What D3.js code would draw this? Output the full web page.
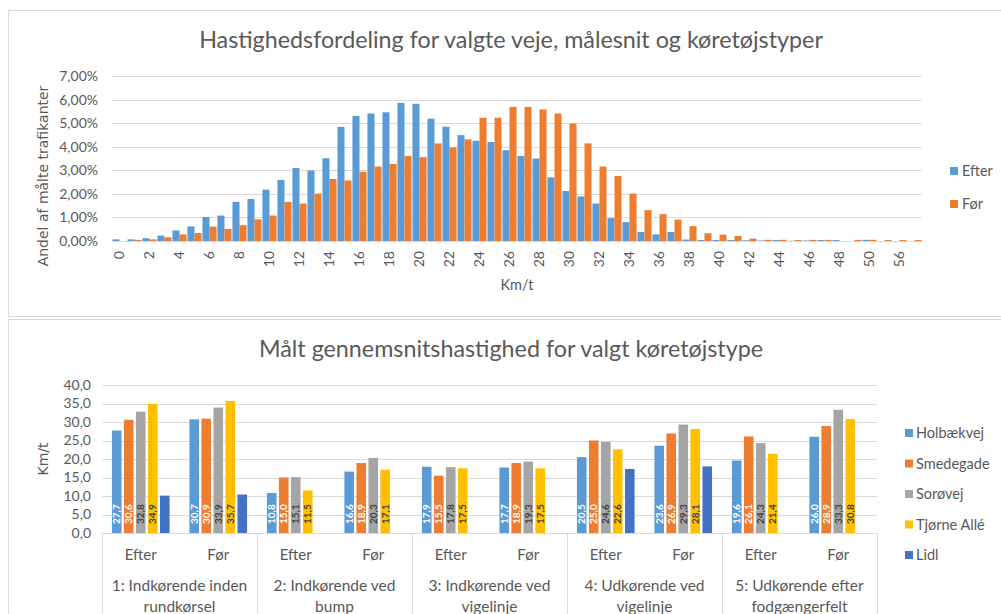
<!DOCTYPE html>
<html><head><meta charset="utf-8">
<script src="https://cdn.jsdelivr.net/npm/d3@7"></script>
<style>
body{margin:0;background:#fff}
text{font-family:Lato, "Open Sans", sans-serif; fill:#595959}
</style>
</head><body><svg id="c" width="1001" height="614"></svg>
<script>
// ---------- Chart 1 data ----------
const speedCats = ["0","1","2","3","4","5","6","7","8","9","10","11","12","13","14","15","16","17","18","19","20","21","22","23","24","25","26","27","28","29","30","31","32","33","34","35","36","37","38","39","40","41","42","43","44","45","46","47","48","49","50","52","56","60"];
const efterShare = [0.07,0.07,0.12,0.23,0.45,0.62,1.02,1.08,1.66,1.78,2.18,2.59,3.10,2.99,3.51,4.84,5.31,5.41,5.46,5.86,5.82,5.19,4.85,4.49,4.25,4.20,3.85,3.61,3.50,2.70,2.12,1.89,1.59,0.97,0.80,0.38,0.28,0.38,0.06,0.04,0.04,0.04,0.03,0.02,0.04,0.01,0.02,0.04,0.04,0,0.05,0,0,0];
const forShare = [0,0.05,0.07,0.16,0.28,0.34,0.61,0.51,0.67,0.92,1.08,1.66,1.59,2.01,2.63,2.57,2.94,3.16,3.27,3.61,3.56,4.14,3.97,4.31,5.23,5.23,5.69,5.69,5.58,5.41,4.99,4.14,3.16,2.76,2.01,1.31,1.14,0.91,0.63,0.33,0.27,0.21,0.10,0.05,0.05,0.04,0.05,0.05,0,0.05,0.05,0.04,0.04,0.04];
const topSeries = ["Efter","Før"];
const topTicks = [0,1,2,3,4,5,6,7];

// ---------- Chart 2 data ----------
const groups = [["1: Indkørende inden","rundkørsel"],["2: Indkørende ved","bump"],["3: Indkørende ved","vigelinje"],["4: Udkørende ved","vigelinje"],["5: Udkørende efter","fodgængerfelt"]];
const periods = ["Efter","Før"];
const roads = ["Holbækvej","Smedegade","Sorøvej","Tjørne Allé","Lidl"];
const holbaekvej = [27.7,30.7,10.8,16.6,17.9,17.7,20.5,23.6,19.6,26.0];
const smedegade  = [30.6,30.9,15.0,18.9,15.5,18.9,25.0,26.9,26.1,28.9];
const sorovej    = [32.8,33.9,15.1,20.3,17.8,19.3,24.6,29.3,24.3,33.3];
const tjorneAlle = [34.9,35.7,11.5,17.1,17.5,17.5,22.6,28.1,21.4,30.8];
const lidl       = [10.1,10.4,null,null,null,null,17.3,18.0,null,null];
const bottomTicks = [0,5,10,15,20,25,30,35,40];

const roadValues = [holbaekvej, smedegade, sorovej, tjorneAlle, lidl];
const showLabel = [true,true,true,true,false];
const roadColors = ["#5B9BD5","#ED7D31","#A5A5A5","#FFC000","#4472C4"];
const labelColors = ["#ffffff","#ffffff","#404040","#404040","#ffffff"];
const topColors = ["#5B9BD5","#ED7D31"];

const svg = d3.select("#c");
const grid = "#D9D9D9";
const fmt2 = v => d3.format(".2f")(v).replace(".", ",") + "%";
const fmt1 = v => d3.format(".1f")(v).replace(".", ",");

// frames
svg.append("rect").attr("x",8.5).attr("y",10.5).attr("width",1000).attr("height",306).attr("fill","none").attr("stroke",grid);
svg.append("rect").attr("x",8.5).attr("y",319.5).attr("width",1000).attr("height",320).attr("fill","none").attr("stroke",grid);

// ================= Chart 1 =================
const y1 = d3.scaleLinear().domain([0,7]).range([241,76]);
const x1 = d3.scaleBand().domain(speedCats).range([112,922]).paddingInner(0.06).paddingOuter(0.03);
const x1s = d3.scaleBand().domain(topSeries).range([0,x1.bandwidth()]);

svg.append("text").attr("x",511).attr("y",48).attr("text-anchor","middle").attr("font-size",23.3).text("Hastighedsfordeling for valgte veje, målesnit og køretøjstyper");

const g1 = svg.append("g");
g1.selectAll("line.grid").data(topTicks).join("line")
  .attr("x1",112).attr("x2",922).attr("y1",d=>Math.round(y1(d))+0.5).attr("y2",d=>Math.round(y1(d))+0.5)
  .attr("stroke",grid).attr("stroke-width",1);

const ay1 = d3.axisLeft(y1).tickValues(topTicks).tickFormat(fmt2).tickSize(0).tickPadding(0);
const ay1g = svg.append("g").attr("transform","translate(98,0)").call(ay1);
ay1g.select(".domain").remove();
ay1g.selectAll("text").attr("font-size",14).attr("fill","#595959").style("font-family","Lato");

const topData = [efterShare, forShare];
topData.forEach((arr,si)=>{
  g1.selectAll(null).data(arr).join("rect")
    .attr("x",(d,i)=>x1(speedCats[i]) + x1s(topSeries[si]))
    .attr("width",x1s.bandwidth())
    .attr("y",d=>y1(d))
    .attr("height",d=>y1(0)-y1(d))
    .attr("fill",topColors[si]);
});

const ax1 = d3.axisBottom(x1).tickValues(speedCats.filter((d,i)=>i%2===0)).tickSize(0).tickPadding(0);
const ax1g = svg.append("g").attr("transform","translate(0,241)").call(ax1);
ax1g.select(".domain").remove();
ax1g.selectAll("text").attr("font-size",14).attr("fill","#595959").style("font-family","Lato")
  .attr("transform","rotate(-90)").attr("text-anchor","end").attr("dy","0.35em").attr("x",-10).attr("y",0);

svg.append("text").attr("x",517).attr("y",290).attr("text-anchor","middle").attr("font-size",14.5).text("Km/t");
svg.append("text").attr("transform","translate(48,176) rotate(-90)").attr("text-anchor","middle")
  .style("font-family","'DejaVu Sans'").attr("font-size",14).text("Andel af målte trafikanter");

// legend 1
topSeries.forEach((s,i)=>{
  const yy = 171 + i*33;
  svg.append("rect").attr("x",950).attr("y",yy-4).attr("width",8).attr("height",8).attr("fill",topColors[i]);
  svg.append("text").attr("x",962).attr("y",yy).attr("dy","0.35em").attr("font-size",14.5).text(s);
});

// ================= Chart 2 =================
svg.append("text").attr("x",511).attr("y",357).attr("text-anchor","middle").attr("font-size",23.3).text("Målt gennemsnitshastighed for valgt køretøjstype");

const y2 = d3.scaleLinear().domain([0,40]).range([533,385]);
const catKeys = [];
groups.forEach((g,gi)=>periods.forEach(p=>catKeys.push(gi+"|"+p)));
const x2 = d3.scaleBand().domain(catKeys).range([102,877]);
const bw = x2.bandwidth();
const x2s = d3.scaleBand().domain(roads).range([bw*0.128,bw*0.872]).paddingInner(0.2);

svg.append("g").selectAll("line").data(bottomTicks.filter(d=>d>0)).join("line")
  .attr("x1",102).attr("x2",877).attr("y1",d=>Math.round(y2(d))+0.5).attr("y2",d=>Math.round(y2(d))+0.5)
  .attr("stroke",grid);

const ay2 = d3.axisLeft(y2).tickValues(bottomTicks).tickFormat(fmt1).tickSize(0).tickPadding(0);
const ay2g = svg.append("g").attr("transform","translate(91,0)").call(ay2);
ay2g.select(".domain").remove();
ay2g.selectAll("text").attr("font-size",14).attr("fill","#595959").style("font-family","Lato");

const g2 = svg.append("g");
roadValues.forEach((arr,ri)=>{
  const items = arr.map((v,i)=>({v,i})).filter(d=>d.v!==null);
  g2.selectAll(null).data(items).join("rect")
    .attr("x",d=>x2(catKeys[d.i]) + x2s(roads[ri]))
    .attr("width",x2s.bandwidth())
    .attr("y",d=>y2(d.v))
    .attr("height",d=>y2(0)-y2(d.v))
    .attr("fill",roadColors[ri]);
  if (showLabel[ri]) {
    g2.selectAll(null).data(items).join("text")
      .attr("transform",d=>`translate(${x2(catKeys[d.i]) + x2s(roads[ri]) + x2s.bandwidth()/2},${y2(0)-9}) rotate(-90)`)
      .attr("dy","0.35em").attr("text-anchor","start")
      .attr("font-size",10).attr("font-weight","bold")
      .style("fill",labelColors[ri])
      .text(d=>fmt1(d.v));
  }
});

// category axis (bottom)
const axG = svg.append("g");
axG.append("line").attr("x1",102).attr("x2",877).attr("y1",533.5).attr("y2",533.5).attr("stroke",grid);
const sepX = d3.range(groups.length+1).map(i=> i<groups.length ? x2(catKeys[i*2]) : 877);
axG.selectAll("line.sep").data(sepX).join("line")
  .attr("x1",d=>Math.round(d)+0.5).attr("x2",d=>Math.round(d)+0.5).attr("y1",533).attr("y2",614).attr("stroke",grid);
axG.selectAll("text.per").data(catKeys).join("text")
  .attr("x",d=>x2(d)+bw/2).attr("y",555).attr("dy","0.35em").attr("text-anchor","middle").attr("font-size",15)
  .text(d=>d.split("|")[1]);
groups.forEach((g,gi)=>{
  const cx = (x2(catKeys[gi*2]) + x2(catKeys[gi*2+1]) + bw)/2;
  g.forEach((line,li)=>{
    axG.append("text").attr("x",cx).attr("y",586+li*21).attr("dy","0.35em").attr("text-anchor","middle").attr("font-size",15.5).text(line);
  });
});

svg.append("text").attr("transform","translate(48,459) rotate(-90)").attr("text-anchor","middle")
  .style("font-family","'DejaVu Sans'").attr("font-size",14).text("Km/t");

// legend 2
roads.forEach((s,i)=>{
  const yy = 433 + i*30.5;
  svg.append("rect").attr("x",905).attr("y",yy-4).attr("width",8).attr("height",8).attr("fill",roadColors[i]);
  svg.append("text").attr("x",916).attr("y",yy).attr("dy","0.35em").attr("font-size",14.5).text(s);
});
</script>
</body></html>
